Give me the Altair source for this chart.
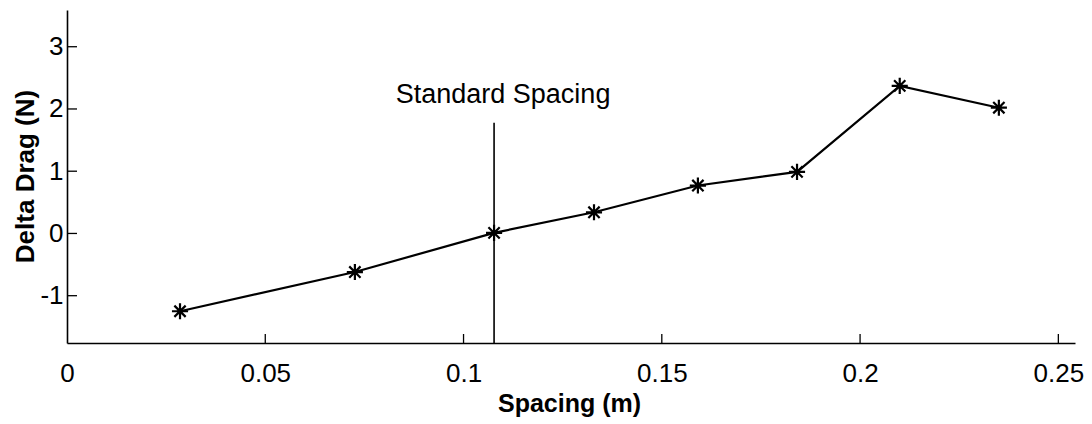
import altair as alt
import pandas as pd

# Measured drag change versus spacing
spacing_m = [0.0285, 0.0726, 0.1077, 0.1329, 0.1591, 0.1841, 0.2100, 0.2350]
delta_drag_n = [-1.25, -0.62, 0.01, 0.34, 0.77, 0.99, 2.37, 2.02]

# Standard spacing marker
standard_spacing = 0.1077
standard_line_top = 1.78
standard_label = "Standard Spacing"
standard_label_y = 2.22

# Axis ranges and ticks
x_domain = [0, 0.2542]
y_domain = [-1.76, 3.59]
x_ticks = [0, 0.05, 0.1, 0.15, 0.2, 0.25]
y_ticks = [-1, 0, 1, 2, 3]

W, H = 1008, 333
FONT = "Liberation Sans"

data = pd.DataFrame({"spacing": spacing_m, "delta": delta_drag_n})
xt = pd.DataFrame({"x": x_ticks[1:]})
yt = pd.DataFrame({"y": y_ticks})
std = pd.DataFrame({"x": [standard_spacing], "y0": [y_domain[0]], "y1": [standard_line_top],
                    "ly": [standard_label_y], "label": [standard_label]})

xscale = alt.Scale(domain=x_domain, nice=False, zero=False)
yscale = alt.Scale(domain=y_domain, nice=False, zero=False)

xaxis = alt.Axis(values=x_ticks, format="~g", grid=False, ticks=False, tickSize=0,
                 domainColor="black", domainWidth=1.6,
                 labelFont=FONT, labelFontSize=26, labelColor="black",
                 labelBaseline="alphabetic", labelPadding=38, labelFlush=False,
                 title="Spacing (m)", titleFont=FONT, titleFontSize=25, titleFontWeight="bold",
                 titleColor="black", titleX=502, titleY=68, titleBaseline="alphabetic",
                 titleAlign="center", titleAnchor=None)
yaxis = alt.Axis(values=y_ticks, labelExpr="'' + datum.value", grid=False, ticks=False, tickSize=0,
                 domainColor="black", domainWidth=1.6,
                 labelFont=FONT, labelFontSize=26, labelColor="black", labelPadding=4,
                 title="Delta Drag (N)", titleFont=FONT, titleFontSize=26, titleFontWeight="bold",
                 titleColor="black", titleX=-34, titleY=166, titleAngle=270,
                 titleBaseline="alphabetic", titleAlign="center")

base = alt.Chart(data)

line = base.mark_line(color="black", strokeWidth=2.2).encode(
    x=alt.X("spacing:Q", scale=xscale, axis=xaxis),
    y=alt.Y("delta:Q", scale=yscale, axis=yaxis),
)

star = "M-1,0L1,0M0,-1L0,1M-0.7,-0.7L0.7,0.7M-0.7,0.7L0.7,-0.7"
points = base.mark_point(shape=star, size=260, color="black", strokeWidth=2.2, filled=False, opacity=1).encode(
    x="spacing:Q", y="delta:Q"
)

x_tick_marks = alt.Chart(xt).mark_rule(color="black", strokeWidth=1.3).encode(
    x="x:Q", y=alt.value(H), y2=alt.value(H - 9)
)
y_tick_marks = alt.Chart(yt).mark_rule(color="black", strokeWidth=1.3).encode(
    y="y:Q", x=alt.value(0), x2=alt.value(10)
)

std_rule = alt.Chart(std).mark_rule(color="black", strokeWidth=1.6).encode(
    x="x:Q", y="y0:Q", y2="y1:Q"
)
std_text = alt.Chart(std).mark_text(font=FONT, fontSize=27, color="black", align="center",
                                    baseline="middle", dx=9).encode(
    x="x:Q", y="ly:Q", text="label:N"
)

chart = alt.layer(line, points, std_rule, std_text, x_tick_marks, y_tick_marks).properties(
    width=W, height=H,
    autosize=alt.AutoSizeParams(type="none"),
    padding={"left": 67, "top": 10, "right": 17, "bottom": 81},
    background="white",
).configure_view(stroke=None)

chart.save("out.html", embed_options={"renderer": "svg", "actions": False})
